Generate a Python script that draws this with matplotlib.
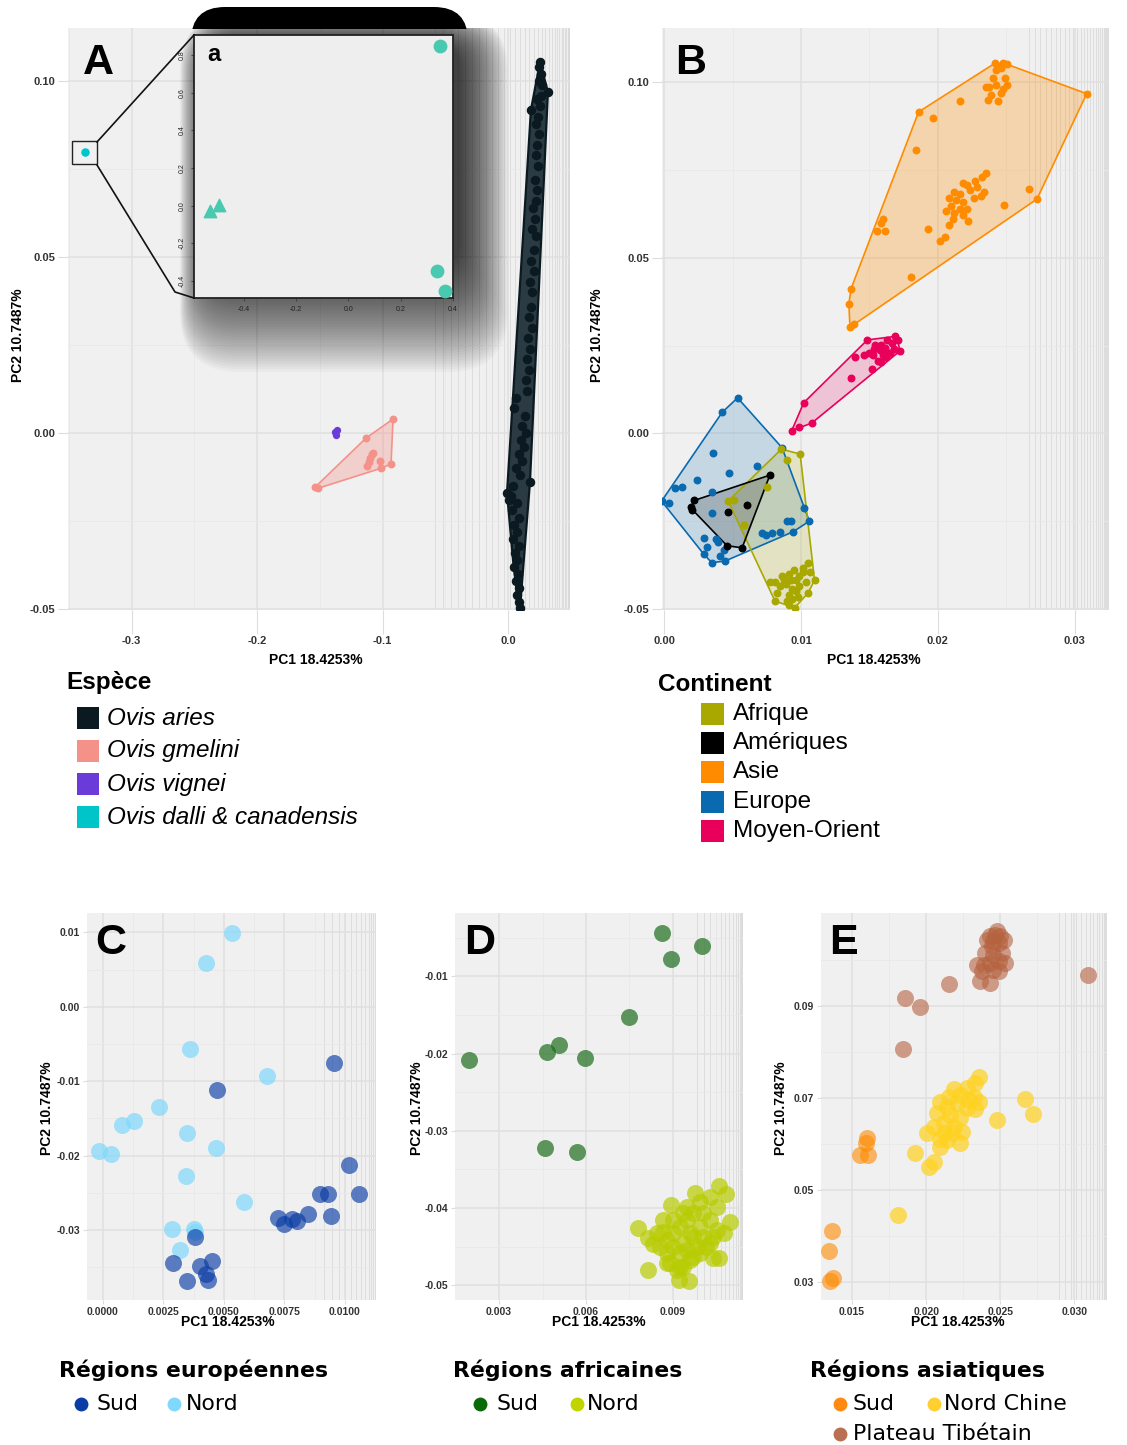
import matplotlib
matplotlib.use('Agg')
import matplotlib.pyplot as plt
import numpy as np
from matplotlib.patches import Rectangle, FancyBboxPatch, Polygon
from matplotlib.lines import Line2D
from matplotlib.transforms import Affine2D

W, H = 1127, 1445
plt.rcParams['font.family'] = ['Liberation Sans', 'DejaVu Sans']

# ---- panel A : species ----
aries_x = [0.0255, 0.0250, 0.0262, 0.0248, 0.0270, 0.0318, 0.0262, 0.0235, 0.0255, 0.0183,
           0.0240, 0.0225, 0.0245, 0.0230, 0.0220, 0.0240, 0.0215, 0.0235, 0.0225, 0.0200,
           0.0215, 0.0190, 0.0220, 0.0205, 0.0185, 0.0210, 0.0175, 0.0195, 0.0180, 0.0165,
           0.0190, 0.0160, 0.0175, 0.0150, 0.0165, 0.0140, 0.0155, 0.0060, 0.0045, 0.0135,
           0.0110, 0.0140, 0.0100, 0.0125, 0.0085, 0.0110, 0.0060, 0.0095, 0.0175, 0.0040,
           -0.0008, 0.0020, 0.0010, 0.0070, 0.0035, 0.0090, 0.0050, 0.0075, 0.0040, 0.0085,
           0.0055, 0.0070, 0.0045, 0.0080, 0.0060, 0.0085, 0.0075, 0.0090, 0.0096]
aries_y = [0.1055, 0.1040, 0.1020, 0.1000, 0.0990, 0.0970, 0.0960, 0.0950, 0.0930, 0.0920,
           0.0900, 0.0880, 0.0850, 0.0820, 0.0790, 0.0760, 0.0720, 0.0690, 0.0660, 0.0640,
           0.0610, 0.0580, 0.0560, 0.0520, 0.0490, 0.0460, 0.0430, 0.0400, 0.0360, 0.0330,
           0.0300, 0.0270, 0.0240, 0.0210, 0.0180, 0.0150, 0.0120, 0.0100, 0.0070, 0.0050,
           0.0020, 0.0000, -0.0020, -0.0040, -0.0060, -0.0080, -0.0100, -0.0120, -0.0140, -0.0150,
           -0.0170, -0.0180, -0.0190, -0.0200, -0.0220, -0.0240, -0.0260, -0.0280, -0.0300, -0.0320,
           -0.0340, -0.0360, -0.0380, -0.0400, -0.0420, -0.0440, -0.0460, -0.0480, -0.0496]
gmelini_x = [-0.0916, -0.0932, -0.1514, -0.1538, -0.1131, -0.1084, -0.1100, -0.1124, -0.1020, -0.1012, -0.1076, -0.1108]
gmelini_y = [0.0040, -0.0088, -0.0157, -0.0154, -0.0014, -0.0060, -0.0071, -0.0094, -0.0080, -0.0100, -0.0057, -0.0083]
vignei_x = [-0.1378, -0.1365, -0.1372]
vignei_y = [0.0003, 0.0008, -0.0004]
dalli_x = [-0.337]
dalli_y = [0.080]
# inset a
inset_circ_x = [0.350, 0.338, 0.369]
inset_circ_y = [0.848, -0.347, -0.453]
inset_tri_x = [-0.530, -0.496]
inset_tri_y = [-0.030, 0.005]

species = ['Ovis aries', 'Ovis gmelini', 'Ovis vignei', 'Ovis dalli & canadensis']
species_col = ['#0b1a20', '#f4928a', '#6a3bd8', '#00c5c8']

# ---- panel B : continents ----
asie_x = [0.02414, 0.02439, 0.02477, 0.02503, 0.02426, 0.02464, 0.02401, 0.0249, 0.02375, 0.02426,
          0.0235, 0.02477, 0.02503, 0.02388, 0.02363, 0.02439, 0.02464, 0.01859, 0.01961, 0.02159,
          0.03087, 0.01841, 0.0235, 0.02325, 0.02274, 0.0218, 0.02121, 0.0221, 0.02159, 0.02235,
          0.02286, 0.02337, 0.02083, 0.02134, 0.02185, 0.02261, 0.02312, 0.02096, 0.02159, 0.0221,
          0.02057, 0.02121, 0.02185, 0.02108, 0.02223, 0.02083, 0.02668, 0.02485, 0.02724, 0.016,
          0.01587, 0.01554, 0.01612, 0.0193, 0.02052, 0.02019, 0.01803, 0.01366, 0.0135, 0.01358, 0.01384]
asie_y = [0.1053, 0.1047, 0.1053, 0.1051, 0.1035, 0.1041, 0.1011, 0.1011, 0.0987, 0.0993,
          0.0987, 0.0981, 0.0993, 0.0963, 0.0949, 0.0945, 0.0969, 0.0915, 0.0897, 0.0945,
          0.0967, 0.0808, 0.0742, 0.073, 0.0718, 0.0712, 0.0688, 0.0706, 0.0682, 0.0694,
          0.07, 0.0688, 0.067, 0.0664, 0.0658, 0.067, 0.0676, 0.0646, 0.064, 0.064,
          0.0634, 0.0628, 0.0622, 0.061, 0.0604, 0.0592, 0.0697, 0.065, 0.0667, 0.0611,
          0.0599, 0.0577, 0.0577, 0.0581, 0.056, 0.0548, 0.0446, 0.0412, 0.0369, 0.0302, 0.0312]
mo_x = [0.00933, 0.00984, 0.01078, 0.0102, 0.01366, 0.01396, 0.01485, 0.01518, 0.0146, 0.01498,
        0.01536, 0.01562, 0.01587, 0.01625, 0.01663, 0.01689, 0.01707, 0.01722, 0.01676, 0.01638,
        0.016, 0.01562, 0.01523, 0.01574, 0.01612, 0.0165, 0.01544, 0.0162, 0.01587]
mo_y = [0.0008, 0.0019, 0.0029, 0.0087, 0.0158, 0.0218, 0.0266, 0.0182, 0.0222, 0.023,
        0.024, 0.0246, 0.0252, 0.0266, 0.0258, 0.0276, 0.0266, 0.0234, 0.024, 0.023,
        0.0222, 0.0206, 0.0222, 0.0237, 0.0242, 0.0228, 0.0252, 0.0216, 0.0204]
europe_x = [-0.00018, 0.00036, 0.00079, 0.0013, 0.00239, 0.00359, 0.00348, 0.00425, 0.00537, 0.00476,
            0.00679, 0.00348, 0.0029, 0.00315, 0.00379, 0.00392, 0.0029, 0.00348, 0.00443, 0.00409,
            0.00435, 0.00715, 0.00748, 0.00786, 0.00849, 0.00944, 0.009, 0.00926, 0.0102, 0.01061, 0.00862]
europe_y = [-0.0193, -0.0197, -0.0157, -0.0153, -0.0133, -0.0057, -0.0167, 0.006, 0.0101, -0.0112,
            -0.0093, -0.0227, -0.0299, -0.0325, -0.0301, -0.031, -0.0344, -0.0368, -0.0364, -0.0349,
            -0.0332, -0.0284, -0.0289, -0.0284, -0.028, -0.028, -0.025, -0.025, -0.0212, -0.025, -0.0041]
amer_x = [0.00221, 0.00196, 0.00206, 0.00468, 0.00603, 0.0046, 0.0057, 0.00773]
amer_y = [-0.0191, -0.0209, -0.0217, -0.0224, -0.0203, -0.032, -0.0326, -0.0119]
afr_x = [0.00857, 0.009, 0.00994, 0.00755, 0.00511, 0.00468, 0.00582, 0.01053, 0.01066, 0.01099,
         0.00956, 0.00913, 0.00811, 0.00773, 0.00862, 0.00913, 0.00964, 0.01015, 0.00888, 0.00938,
         0.00989, 0.00849, 0.00913, 0.00977, 0.01053, 0.009, 0.01015, 0.00951, 0.00926, 0.00875,
         0.00964, 0.00824, 0.0104, 0.00938, 0.00989, 0.00811]
afr_y = [-0.0045, -0.0077, -0.0059, -0.0152, -0.0191, -0.0193, -0.026, -0.037, -0.0394, -0.0418,
         -0.0496, -0.049, -0.0478, -0.0424, -0.0406, -0.04, -0.0418, -0.0394, -0.043, -0.0442,
         -0.0436, -0.0436, -0.046, -0.0466, -0.0454, -0.0478, -0.0382, -0.0388, -0.0418, -0.0418,
         -0.0448, -0.0454, -0.0424, -0.0472, -0.0406, -0.0424]
continents = ['Afrique', 'Amériques', 'Asie', 'Europe', 'Moyen-Orient']
cont_col = ['#a8a800', '#000000', '#ff8c00', '#0a6ab0', '#e8005a']

# ---- panel C : Europe regions ----
eu_nord_x = [0.00532, 0.00424, 0.00358, 0.00677, 0.00233, 0.00077, 0.00128, 0.00348, -0.00018, 0.00032,
             0.00468, 0.00345, 0.00584, 0.00286, 0.00376, 0.0032, 0.00381]
eu_nord_y = [0.00987, 0.00592, -0.00574, -0.00924, -0.01341, -0.01592, -0.01538, -0.01691, -0.01942, -0.01973,
             -0.01901, -0.02274, -0.02628, -0.02982, -0.02991, -0.03269, -0.03027]
eu_sud_x = [0.00957, 0.00472, 0.01017, 0.00898, 0.00932, 0.01057, 0.00849, 0.00943, 0.00725, 0.00749,
            0.0078, 0.00801, 0.00381, 0.0029, 0.00401, 0.00452, 0.00428, 0.00435, 0.00349]
eu_sud_y = [-0.00753, -0.01121, -0.02126, -0.02511, -0.02511, -0.02511, -0.0278, -0.02812, -0.02839, -0.02915,
            -0.02857, -0.02879, -0.03094, -0.03444, -0.03484, -0.03413, -0.03596, -0.03677, -0.03686]

# ---- panel D : Africa regions ----
af_sud_x = [0.00863, 0.00999, 0.00895, 0.00747, 0.00508, 0.00466, 0.00598, 0.00198, 0.00459, 0.00568]
af_sud_y = [-0.00438, -0.00603, -0.00771, -0.01523, -0.01886, -0.01981, -0.02054, -0.0208, -0.0322, -0.03276]
af_nord_x = [0.00778, 0.00815, 0.00815, 0.00922, 0.00956, 0.01059, 0.01085, 0.01097, 0.01077, 0.01059,
             0.01039, 0.00976, 0.00895, 0.00947, 0.00832, 0.00867, 0.00878, 0.0089, 0.00913, 0.00936,
             0.00959, 0.00993, 0.01016, 0.01039, 0.01051, 0.01028, 0.01005, 0.00993, 0.01028, 0.01051,
             0.0097, 0.00947, 0.00924, 0.00901, 0.00878, 0.00855, 0.00901, 0.00936, 0.0097, 0.00993,
             0.00959, 0.00924, 0.00947, 0.00982, 0.00901, 0.00936, 0.00867, 0.00844, 0.01005, 0.01028,
             0.0097, 0.00924, 0.00878]
af_nord_y = [-0.04253, -0.04382, -0.04801, -0.04931, -0.04944, -0.03713, -0.03816, -0.04175, -0.04326, -0.04642,
             -0.0465, -0.03799, -0.03959, -0.03981, -0.04469, -0.04305, -0.04585, -0.04715, -0.04801, -0.04758,
             -0.04672, -0.04585, -0.04499, -0.04369, -0.04283, -0.04153, -0.04067, -0.03916, -0.03851, -0.03981,
             -0.04067, -0.04153, -0.0424, -0.04326, -0.04413, -0.045, -0.045, -0.04456, -0.04369, -0.0424,
             -0.04326, -0.04585, -0.04542, -0.04499, -0.04153, -0.04067, -0.04153, -0.04326, -0.04369, -0.04456,
             -0.04629, -0.04758, -0.04715]

# ---- panel E : Asia regions ----
tib_x = [0.02432, 0.02465, 0.02499, 0.02522, 0.02454, 0.02409, 0.02488, 0.02398, 0.02454, 0.0251,
         0.02488, 0.02432, 0.02342, 0.02387, 0.02533, 0.02454, 0.02488, 0.02376, 0.02364, 0.02432,
         0.03094, 0.02156, 0.01859, 0.0196, 0.01841, 0.02477, 0.02443]
tib_y = [0.1051, 0.10546, 0.1051, 0.10437, 0.10401, 0.10437, 0.10365, 0.10147, 0.10111, 0.10147,
         0.09966, 0.09929, 0.09893, 0.09893, 0.09929, 0.09784, 0.09748, 0.09748, 0.0953, 0.09494,
         0.09661, 0.09465, 0.09167, 0.08985, 0.08064, 0.10619, 0.10292]
as_sud_x = [0.01601, 0.01597, 0.01552, 0.01608, 0.01361, 0.01347, 0.01372, 0.0135]
as_sud_y = [0.06132, 0.06024, 0.05755, 0.05755, 0.04107, 0.03664, 0.03083, 0.03011]
chine_x = [0.02358, 0.02331, 0.02275, 0.02185, 0.0223, 0.0232, 0.02353, 0.02095, 0.0214, 0.02207,
           0.02275, 0.02331, 0.02073, 0.02162, 0.0223, 0.0205, 0.02117, 0.02185, 0.02241, 0.02095,
           0.0214, 0.0223, 0.02095, 0.01927, 0.0205, 0.02016, 0.02667, 0.02724, 0.02481, 0.01808,
           0.02174, 0.02286, 0.02151, 0.02117, 0.02005]
chine_y = [0.07446, 0.0733, 0.07207, 0.07185, 0.07062, 0.07025, 0.06917, 0.06917, 0.06808, 0.0688,
           0.06771, 0.0675, 0.06662, 0.06626, 0.06553, 0.06372, 0.06445, 0.06372, 0.06263, 0.06096,
           0.06082, 0.06024, 0.05922, 0.05806, 0.0561, 0.05501, 0.06982, 0.06655, 0.06517, 0.04448,
           0.06227, 0.06953, 0.07025, 0.06227, 0.06227]

# pixel-space transform (origin top-left)
fig = plt.figure(figsize=(W / 100, H / 100), dpi=100)
fig.patch.set_facecolor('white')
T = Affine2D().scale(1 / 100, -1 / 100).translate(0, H / 100) + fig.dpi_scale_trans


def hull(xs, ys):
    pts = sorted(set(zip(xs, ys)))
    def cross(o, a, b):
        return (a[0] - o[0]) * (b[1] - o[1]) - (a[1] - o[1]) * (b[0] - o[0])
    lower, upper = [], []
    for p in pts:
        while len(lower) >= 2 and cross(lower[-2], lower[-1], p) <= 0:
            lower.pop()
        lower.append(p)
    for p in reversed(pts):
        while len(upper) >= 2 and cross(upper[-2], upper[-1], p) <= 0:
            upper.pop()
        upper.append(p)
    return lower[:-1] + upper[:-1]


def panel(l, t, r, b, xlim, ylim, xt, xl, yt, yl, xm, ym, xlen=3, ylen=3, z=0, fs=7.5):
    ax = fig.add_axes([l / W, 1 - b / H, (r - l) / W, (b - t) / H], zorder=z)
    ax.set_facecolor('#f0f0f0')
    for s in ax.spines.values():
        s.set_visible(False)
    ax.set_xlim(xlim)
    ax.set_ylim(ylim)
    ax.set_xticks(xt)
    ax.set_xticklabels(xl)
    ax.set_yticks(yt)
    ax.set_yticklabels(yl)
    ax.set_xticks(xm, minor=True)
    ax.set_yticks(ym, minor=True)
    ax.grid(True, which='major', color='#e0e0e0', lw=1.1)
    ax.grid(True, which='minor', color='#e8e8e8', lw=0.6)
    ax.tick_params(axis='x', which='major', length=xlen, color='#dddddd', labelsize=fs,
                   labelcolor='#333333', pad=2)
    ax.tick_params(axis='y', which='major', length=ylen, color='#dddddd', labelsize=fs,
                   labelcolor='#333333', pad=2)
    ax.tick_params(which='minor', length=0)
    for lab in ax.get_xticklabels() + ax.get_yticklabels():
        lab.set_fontweight('bold')
    ax.set_axisbelow(True)
    return ax


def deco(ax, start, end, n):
    # dense vertical line texture at the right edge of the panels
    k = np.arange(n) / n
    for xv in end - (end - start) * k ** 2:
        ax.axvline(xv, color='#dadada', lw=0.6, zorder=0.5)


def titles(cx, cy_x, lx, ly):
    fig.text(cx / W, 1 - cy_x / H, 'PC1 18.4253%', ha='center', va='center',
             fontsize=10, fontweight='bold')
    fig.text(lx / W, 1 - ly / H, 'PC2 10.7487%', ha='center', va='center',
             fontsize=10, fontweight='bold', rotation=90)


def letter(ax, s):
    ax.text(0.03, 0.975, s, transform=ax.transAxes, ha='left', va='top',
            fontsize=31, fontweight='bold', zorder=10)


yt_ab = [-0.05, 0.0, 0.05, 0.10]
yl_ab = ['-0.05', '0.00', '0.05', '0.10']

# ---------------- A ----------------
axA = panel(68, 28, 570, 610, (-0.3506, 0.0494), (-0.0503, 0.1152),
            [-0.3, -0.2, -0.1, 0.0], ['-0.3', '-0.2', '-0.1', '0.0'], yt_ab, yl_ab,
            [-0.35, -0.25, -0.15, -0.05], [-0.025, 0.025, 0.075], xlen=17, ylen=7, fs=8)
deco(axA, -0.065, 0.049, 34)
hx, hy = zip(*hull(aries_x, aries_y))
axA.add_patch(Polygon(list(zip(hx, hy)), closed=True, fc='#2a3b44', ec=species_col[0],
                      lw=1.6, zorder=2))
axA.scatter(aries_x, aries_y, s=34, color=species_col[0], zorder=3)
hx, hy = zip(*hull(gmelini_x, gmelini_y))
axA.add_patch(Polygon(list(zip(hx, hy)), closed=True, fc=species_col[1], ec='none',
                      alpha=0.35, zorder=2))
axA.add_patch(Polygon(list(zip(hx, hy)), closed=True, fill=False, ec=species_col[1], lw=1.2, zorder=2))
axA.scatter(gmelini_x, gmelini_y, s=22, color=species_col[1], zorder=3)
axA.scatter(vignei_x, vignei_y, s=18, color=species_col[2], zorder=3)
axA.scatter(dalli_x, dalli_y, s=26, color=species_col[3], zorder=3)
axA.add_patch(Rectangle((dalli_x[0] - 0.0104, dalli_y[0] - 0.0036), 0.0199, 0.0066,
                        fill=False, ec='#222222', lw=1.0, zorder=4))
letter(axA, 'A')
titles(316, 660, 18, 335)

# soft shadow behind the inset, kept inside panel A
clip_panel = Rectangle((68, 28), 502, 582, transform=T)
n_sh = 40
for i in range(n_sh):
    f = i / (n_sh - 1)
    l, t, r, b = 180 + 28 * f, 12 + 30 * f, 508 - 48 * f, 372 - 105 * f
    p = FancyBboxPatch((l, t), r - l, b - t, boxstyle='round,pad=0,rounding_size=%d' % (60 - 30 * f),
                       fc='black', ec='none', alpha=0.028, transform=T, zorder=1)
    fig.add_artist(p)
    p.set_clip_path(clip_panel)
cap = FancyBboxPatch((191, 7), 277, 70, boxstyle='round,pad=0,rounding_size=34',
                     fc='black', ec='none', transform=T, zorder=1.5)
fig.add_artist(cap)
cap.set_clip_path(Rectangle((0, 0), W, 28.5, transform=T))

# connectors
fig.add_artist(Line2D([97, 194], [142, 35], color='#111111', lw=1.2, transform=T, zorder=4))
fig.add_artist(Line2D([97, 175, 194], [165, 292, 298], color='#111111', lw=1.2, transform=T, zorder=4))

# inset a
axa = fig.add_axes([194 / W, 1 - 298 / H, (453 - 194) / W, (298 - 35) / H], zorder=3)
axa.set_facecolor('#eeeeee')
for s in axa.spines.values():
    s.set_color('#222222')
    s.set_linewidth(1.3)
axa.set_xlim(-0.591, 0.40)
axa.set_ylim(-0.49, 0.906)
axa.set_xticks([-0.4, -0.2, 0.0, 0.2, 0.4])
axa.set_xticklabels(['-0.4', '-0.2', '0.0', '0.2', '0.4'])
axa.set_yticks([-0.4, -0.2, 0.0, 0.2, 0.4, 0.6, 0.8])
axa.set_yticklabels(['-0.4', '-0.2', '0.0', '0.2', '0.4', '0.6', '0.8'], rotation=90, va='center')
axa.tick_params(labelsize=5, length=2, color='#444444', labelcolor='#222222', pad=4)
axa.scatter(inset_circ_x, inset_circ_y, s=80, color='#48c9b0', zorder=3)
axa.scatter(inset_tri_x, inset_tri_y, s=80, marker='^', color='#48c9b0', zorder=3)
axa.text(0.05, 0.97, 'a', transform=axa.transAxes, ha='left', va='top', fontsize=17, fontweight='bold')

# ---------------- B ----------------
axB = panel(662, 28, 1109, 610, (-0.00015, 0.0325), (-0.0503, 0.1154),
            [0.0, 0.01, 0.02, 0.03], ['0.00', '0.01', '0.02', '0.03'], yt_ab, yl_ab,
            [0.005, 0.015, 0.025], [-0.025, 0.025, 0.075], xlen=17, ylen=7, fs=8)
deco(axB, 0.0262, 0.0325, 28)
b_groups = [(afr_x, afr_y), (amer_x, amer_y), (asie_x, asie_y), (europe_x, europe_y), (mo_x, mo_y)]
b_order = [3, 0, 1, 2, 4]
for gi in b_order:
    gx, gy = b_groups[gi]
    c = cont_col[gi]
    hx, hy = zip(*hull(gx, gy))
    axB.add_patch(Polygon(list(zip(hx, hy)), closed=True, fc=c, ec='none',
                          alpha=0.18 if gi != 2 else 0.28, zorder=2))
    axB.add_patch(Polygon(list(zip(hx, hy)), closed=True, fill=False, ec=c, lw=1.2, zorder=2.5))
    axB.scatter(gx, gy, s=22, color=c, zorder=3)
letter(axB, 'B')
titles(874, 660, 597, 335)

# legends A, B
fig.text(66 / W, 1 - 683 / H, 'Espèce', fontsize=17.5, fontweight='bold', va='center')
for i, (name, c) in enumerate(zip(species, species_col)):
    yc = 718 + i * 33
    fig.add_artist(Rectangle((77, yc - 11), 22, 22, fc=c, ec='none', transform=T))
    fig.text(107 / W, 1 - yc / H, name, fontsize=17.5, style='italic', va='center')
fig.text(658 / W, 1 - 685 / H, 'Continent', fontsize=17.5, fontweight='bold', va='center')
for i, (name, c) in enumerate(zip(continents, cont_col)):
    yc = 714 + i * 29.2
    fig.add_artist(Rectangle((701, yc - 11), 23, 22, fc=c, ec='none', transform=T))
    fig.text(733 / W, 1 - yc / H, name, fontsize=17.5, va='center')

# ---------------- C ----------------
axC = panel(87, 913, 376, 1300, (-0.00066, 0.01129), (-0.0394, 0.0126),
            [0.0, 0.0025, 0.005, 0.0075, 0.01], ['0.0000', '0.0025', '0.0050', '0.0075', '0.0100'],
            [-0.03, -0.02, -0.01, 0.0, 0.01], ['-0.03', '-0.02', '-0.01', '0.00', '0.01'],
            [0.00125, 0.00375, 0.00625, 0.00875], [-0.035, -0.025, -0.015, -0.005, 0.005])
deco(axC, 0.0088, 0.0113, 14)
axC.scatter(eu_nord_x, eu_nord_y, s=150, color='#7fd9fb', alpha=0.7, lw=0, zorder=3)
axC.scatter(eu_sud_x, eu_sud_y, s=150, color='#0a3da6', alpha=0.65, lw=0, zorder=3)
letter(axC, 'C')
titles(228, 1322, 47, 1108)

# ---------------- D ----------------
axD = panel(455, 913, 743, 1300, (0.00148, 0.01142), (-0.0519, -0.00179),
            [0.003, 0.006, 0.009], ['0.003', '0.006', '0.009'],
            [-0.05, -0.04, -0.03, -0.02, -0.01], ['-0.05', '-0.04', '-0.03', '-0.02', '-0.01'],
            [0.0045, 0.0075, 0.0105], [-0.045, -0.035, -0.025, -0.015, -0.005])
deco(axD, 0.0096, 0.0114, 14)
axD.scatter(af_sud_x, af_sud_y, s=150, color='#1e6e1e', alpha=0.7, lw=0, zorder=3)
axD.scatter(af_nord_x, af_nord_y, s=150, color='#b8cc00', alpha=0.7, lw=0, zorder=3)
letter(axD, 'D')
titles(599, 1322, 417, 1108)

# ---------------- E ----------------
axE = panel(821, 913, 1107, 1300, (0.0129, 0.0322), (0.026, 0.1102),
            [0.015, 0.02, 0.025, 0.03], ['0.015', '0.020', '0.025', '0.030'],
            [0.03, 0.05, 0.07, 0.09], ['0.03', '0.05', '0.07', '0.09'],
            [0.0175, 0.0225, 0.0275], [0.04, 0.06, 0.08, 0.10])
deco(axE, 0.0285, 0.0322, 16)
axE.scatter(tib_x, tib_y, s=150, color='#b5623f', alpha=0.6, lw=0, zorder=3)
axE.scatter(as_sud_x, as_sud_y, s=150, color='#ff8a00', alpha=0.6, lw=0, zorder=3)
axE.scatter(chine_x, chine_y, s=150, color='#ffd21f', alpha=0.7, lw=0, zorder=3)
letter(axE, 'E')
titles(958, 1322, 781, 1108)

# bottom legends
leg_font = 'DejaVu Sans'
bottom_legends = [
    (59, 'Régions européennes', [(81, 96, 1404, 'Sud', '#0a3da6'), (174, 186, 1404, 'Nord', '#80d9fb')]),
    (453, 'Régions africaines', [(480, 496, 1404, 'Sud', '#0a6a0a'), (577, 587, 1404, 'Nord', '#c0d400')]),
    (810, 'Régions asiatiques', [(840, 853, 1404, 'Sud', '#ff8a0f'), (934, 944, 1404, 'Nord Chine', '#ffd030'),
                                 (840, 853, 1434, 'Plateau Tibétain', '#b86f52')]),
]
for tx, title, items in bottom_legends:
    fig.text(tx / W, 1 - 1370 / H, title, fontsize=15.8, fontweight='bold', family=leg_font, va='center')
    for dx, lx, yc, lab, c in items:
        fig.add_artist(Line2D([dx], [yc], marker='o', ms=10, color=c, mec='none', transform=T))
        fig.text(lx / W, 1 - yc / H, lab, fontsize=15.8, family=leg_font, va='center')

fig.savefig('out.png', dpi=100)
